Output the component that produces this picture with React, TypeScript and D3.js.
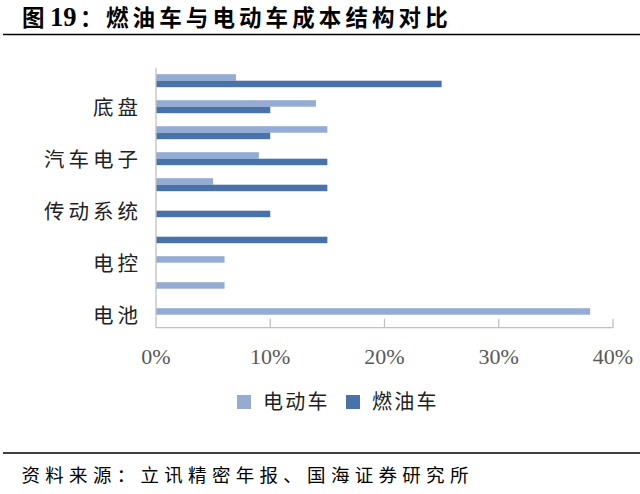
import * as d3 from "d3";

const CATEGORIES = ["车身", "底盘", "内饰", "汽车电子", "变速箱", "传动系统", "发动机", "电控", "电机", "电池"];
const SHOWN_LABELS = ["底盘", "汽车电子", "传动系统", "电控", "电池"];
const EV = [7, 14, 15, 9, 5, 0, 0, 6, 6, 38];
const ICE = [25, 10, 10, 15, 15, 10, 15, 0, 0, 0];
const SERIES = ["电动车", "燃油车"];
const COLORS = ["#94abd3", "#4a72aa"];
const X_TICKS = [0, 10, 20, 30, 40];

const W = 640;
const H = 494;
const X0 = 156;
const X1 = 613;
const Y0 = 67.7;
const Y1 = 327.7;

export default function App() {
  const x = d3.scaleLinear().domain([0, 40]).range([X0, X1]);
  const y = d3
    .scaleBand<string>()
    .domain(CATEGORIES)
    .range([Y0, Y1])
    .paddingInner(0.5)
    .paddingOuter(0.25);
  const sub = d3.scaleBand<string>().domain(SERIES).range([0, y.bandwidth()]);
  const values = [EV, ICE];
  const cjk = "'Noto Sans CJK SC', sans-serif";
  const legendX = [237, 346];

  return (
    <svg
      width={W}
      height={H}
      style={{ position: "absolute", left: 0, top: 0, background: "#fff" }}
    >
      <g fontFamily={cjk} fontWeight="bold" fontSize={22.5} fill="#000">
        <text x={22} y={26.3}>图</text>
        <text x={50} y={26.3} fontFamily="'Liberation Serif', serif" fontSize={26.5}>
          19
        </text>
        <text x={80} y={26.3}>：</text>
        <text x={106} y={26.3} letterSpacing={4.1}>燃油车与电动车成本结构对比</text>
      </g>
      <line x1={3} x2={640} y1={34.5} y2={34.5} stroke="#000" strokeWidth={1.4} />

      {/* bars */}
      {SERIES.map((s, si) =>
        CATEGORIES.map((c, ci) =>
          values[si][ci] > 0 ? (
            <rect
              key={`${s}-${c}`}
              x={x(0)}
              y={(y(c) ?? 0) + (sub(s) ?? 0)}
              width={x(values[si][ci]) - x(0)}
              height={sub.bandwidth()}
              fill={COLORS[si]}
            />
          ) : null,
        ),
      )}

      {/* axes */}
      <g stroke="#c0c0c0" strokeWidth={1.3}>
        <line x1={X0} x2={X0} y1={Y0} y2={Y1} />
        <line x1={X0} x2={X1} y1={Y1} y2={Y1} />
        {X_TICKS.slice(1).map((t) => (
          <line key={t} x1={x(t)} x2={x(t)} y1={Y1 - 9} y2={Y1} />
        ))}
      </g>
      {X_TICKS.map((t) => (
        <text
          key={t}
          x={x(t)}
          y={364}
          textAnchor="middle"
          fontFamily="'Liberation Serif', serif"
          fontSize={22}
          fill="#595959"
        >
          {t}%
        </text>
      ))}
      {CATEGORIES.filter((c) => SHOWN_LABELS.includes(c)).map((c) => (
        <text
          key={c}
          x={138}
          y={(y(c) ?? 0) + y.bandwidth() / 2 + 0.5}
          dy="0.36em"
          textAnchor="end"
          fontFamily={cjk}
          fontSize={20.5}
          letterSpacing={4}
          fill="#222"
          style={{ transform: "translateX(4px)" }}
        >
          {c}
        </text>
      ))}

      {/* legend */}
      {SERIES.map((s, i) => (
        <g key={s} transform={`translate(${legendX[i]},0)`}>
          <rect x={0} y={395} width={14} height={14} fill={COLORS[i]} />
          <text x={26} y={401.5} dy="0.36em" fontFamily={cjk} fontSize={20} letterSpacing={2.2} fill="#222">
            {s}
          </text>
        </g>
      ))}

      <line x1={3} x2={640} y1={453} y2={453} stroke="#000" strokeWidth={1.3} />
      <text x={21.5} y={475} dy="0.36em" fontFamily={cjk} fontSize={18.5} letterSpacing={5.3} fill="#000">
        资料来源：立讯精密年报、国海证券研究所
      </text>
    </svg>
  );
}
